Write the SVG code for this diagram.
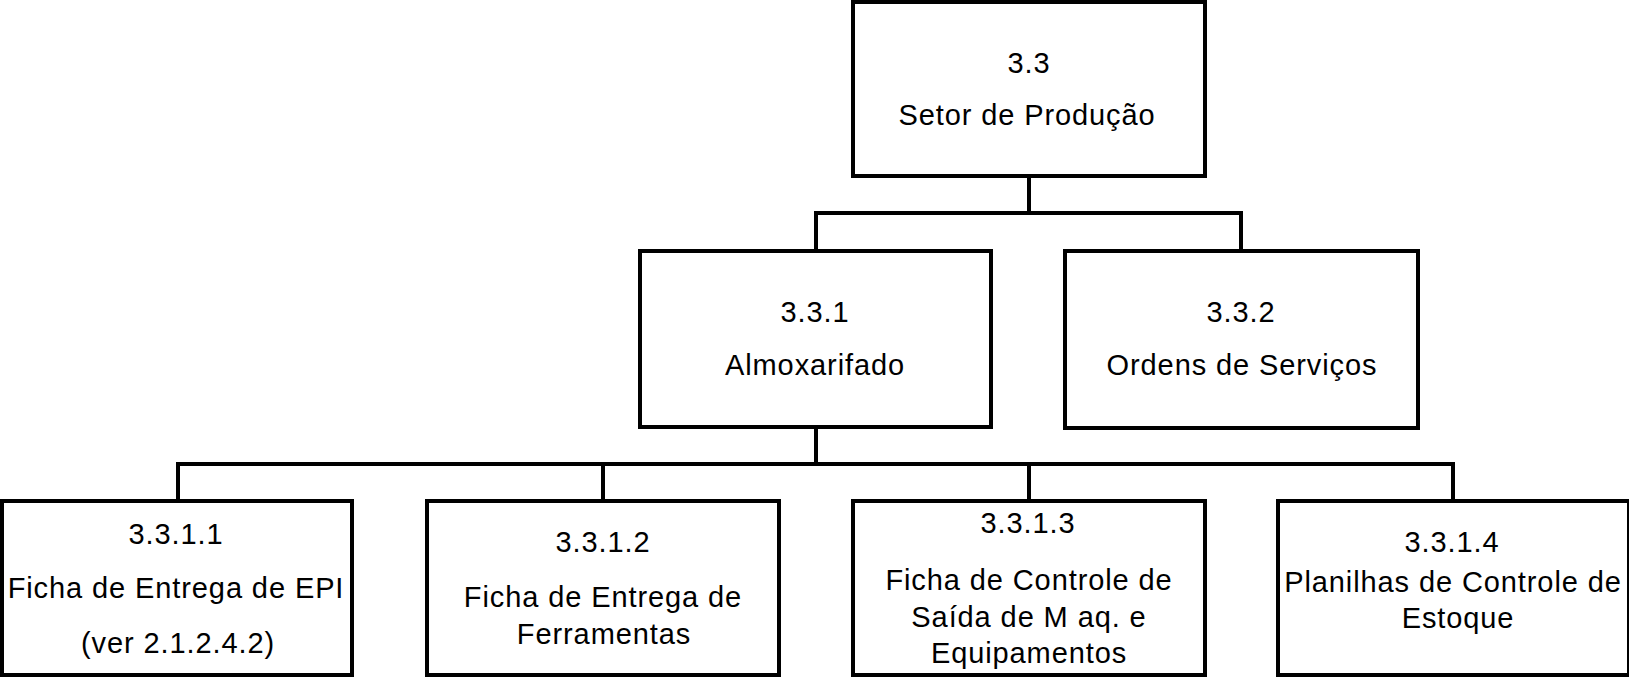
<svg xmlns="http://www.w3.org/2000/svg" width="1629" height="678" viewBox="0 0 1629 678">
<style>
.box{fill:#fff;stroke:#000;stroke-width:4;stroke-linejoin:miter}
.conn{fill:none;stroke:#000;stroke-width:4;stroke-linecap:square}
text{font-family:"Liberation Sans",Arial,sans-serif;font-size:29px;letter-spacing:0.9px;text-anchor:middle;fill:#000}
</style>
<rect width="1629" height="678" fill="#fff"/>
<g id="connectors">
<path class="conn" d="M1029,176 V213 M816,213 H1241 M816,213 V251 M1241,213 V251"/>
<path class="conn" d="M816,427 V464 M178,464 H1453 M178,464 V501 M603,464 V501 M1029,464 V501 M1453,464 V501"/>
</g>
<g id="n3_3">
<rect class="box" x="853" y="2" width="352" height="174"/>
<text x="1029" y="73">3.3</text>
<text x="1027" y="125">Setor de Produção</text>
</g>
<g id="n3_3_1">
<rect class="box" x="640" y="251" width="351" height="176"/>
<text x="815" y="322">3.3.1</text>
<text x="815" y="375">Almoxarifado</text>
</g>
<g id="n3_3_2">
<rect class="box" x="1065" y="251" width="353" height="177"/>
<text x="1241" y="322">3.3.2</text>
<text x="1242" y="375">Ordens de Serviços</text>
</g>
<g id="n3_3_1_1">
<rect class="box" x="2" y="501" width="350" height="174"/>
<text x="176" y="544">3.3.1.1</text>
<text x="176" y="598">Ficha de Entrega de EPI</text>
<text x="178" y="653">(ver 2.1.2.4.2)</text>
</g>
<g id="n3_3_1_2">
<rect class="box" x="427" y="501" width="352" height="174"/>
<text x="603" y="552">3.3.1.2</text>
<text x="603" y="607">Ficha de Entrega de</text>
<text x="604" y="644">Ferramentas</text>
</g>
<g id="n3_3_1_3">
<rect class="box" x="853" y="501" width="352" height="174"/>
<text x="1028" y="533">3.3.1.3</text>
<text x="1029" y="590">Ficha de Controle de</text>
<text x="1029" y="627">Saída de M aq. e</text>
<text x="1029" y="663">Equipamentos</text>
</g>
<g id="n3_3_1_4">
<rect class="box" x="1278" y="501" width="351" height="174"/>
<text x="1452" y="552">3.3.1.4</text>
<text x="1453" y="592">Planilhas de Controle de</text>
<text x="1458" y="628">Estoque</text>
</g>
</svg>
